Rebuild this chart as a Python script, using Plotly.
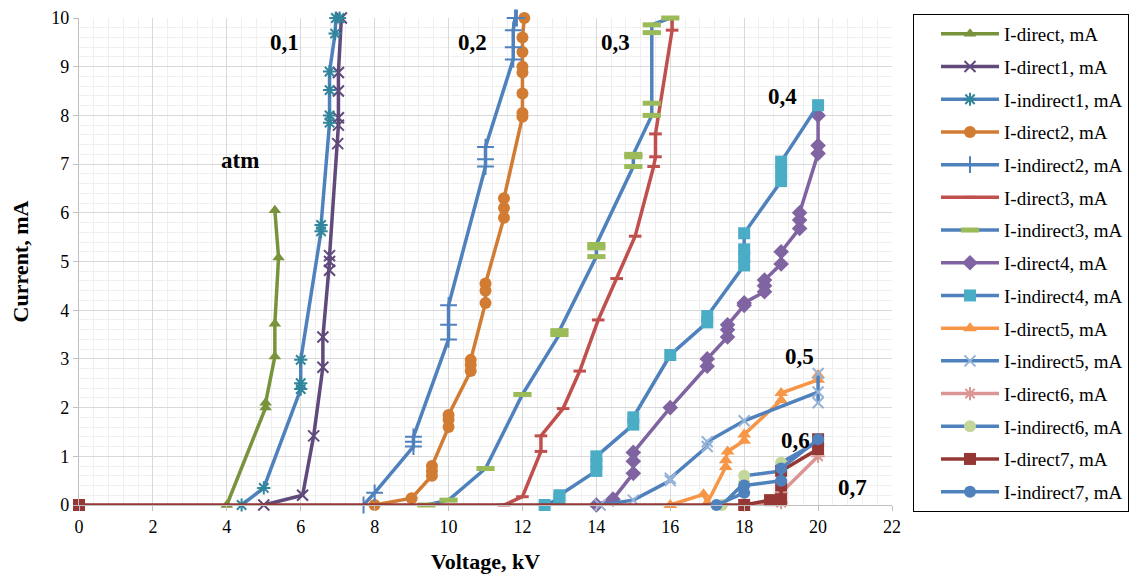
import plotly.graph_objects as go

# ---------------- data ----------------
names = ["I-direct, mA", "I-direct1, mA", "I-indirect1, mA", "I-direct2, mA", "I-indirect2, mA",
         "I-direct3, mA", "I-indirect3, mA", "I-direct4, mA", "I-indirect4, mA", "I-direct5, mA",
         "I-indirect5, mA", "I-direct6, mA", "I-indirect6, mA", "I-direct7, mA", "I-indirect7, mA"]

direct_x = [4.0, 5.05, 5.05, 5.3, 5.3, 5.4, 5.3]
direct_y = [0, 2.0, 2.1, 3.05, 3.72, 5.08, 6.05]

direct1_x = [5.0, 6.05, 6.35, 6.6, 6.6, 6.78, 6.78, 6.78, 7.0, 7.02, 7.02, 7.02, 7.02, 7.1]
direct1_y = [0, 0.2, 1.42, 2.83, 3.45, 4.82, 5.0, 5.12, 7.42, 7.8, 7.95, 8.5, 8.88, 10.0]

indirect1_x = [4.4, 5.0, 6.0, 6.0, 6.0, 6.55, 6.55, 6.78, 6.78, 6.78, 6.78, 6.93, 6.95, 7.05]
indirect1_y = [0, 0.35, 2.38, 2.5, 2.98, 5.62, 5.75, 7.85, 8.0, 8.52, 8.9, 9.68, 10.0, 10.0]

direct2_x = [8.0, 9.0, 9.55, 9.55, 9.55, 10.0, 10.0, 10.0, 10.6, 10.6, 10.6, 11.0, 11.0, 11.0,
             11.5, 11.5, 11.5, 12.0, 12.0, 12.0, 12.0, 12.0, 12.0, 12.0, 12.05]
direct2_y = [0, 0.14, 0.6, 0.7, 0.8, 1.6, 1.75, 1.85, 2.75, 2.88, 2.98, 4.15, 4.4, 4.55,
             5.9, 6.1, 6.3, 7.97, 8.05, 8.45, 8.88, 9.0, 9.3, 9.6, 10.0]

indirect2_x = [7.7, 8.0, 9.05, 9.05, 9.05, 10.0, 10.0, 10.0, 11.0, 11.0, 11.0, 11.75, 11.75, 11.75, 11.8, 11.85]
indirect2_y = [0, 0.25, 1.2, 1.3, 1.4, 3.4, 3.7, 4.1, 6.95, 7.1, 7.35, 9.15, 9.4, 9.75, 10.0, 10.0]

direct3_x = [11.5, 12.0, 12.5, 12.5, 13.1, 13.55, 14.05, 14.55, 15.05, 15.55, 15.6, 15.6, 16.05, 16.05]
direct3_y = [0, 0.17, 1.1, 1.42, 1.98, 2.75, 3.8, 4.65, 5.52, 6.95, 7.15, 7.62, 9.75, 10.0]

indirect3_x = [9.4, 10.0, 11.0, 12.0, 13.0, 13.0, 14.0, 14.0, 14.0, 15.0, 15.0, 15.0, 15.5, 15.5, 15.5, 15.5, 16.0]
indirect3_y = [0, 0.1, 0.75, 2.27, 3.5, 3.58, 5.1, 5.28, 5.35, 6.95, 7.15, 7.2, 8.0, 8.25, 9.7, 9.86, 10.0]

direct4_x = [14.0, 14.45, 15.0, 15.0, 15.0, 16.0, 17.0, 17.0, 17.55, 17.55, 17.55, 18.0, 18.0,
             18.55, 18.55, 18.55, 19.0, 19.0, 19.5, 19.5, 19.5, 20.0, 20.0, 20.0]
direct4_y = [0, 0.12, 0.65, 0.9, 1.08, 2.0, 2.85, 3.0, 3.45, 3.6, 3.7, 4.1, 4.15,
             4.38, 4.5, 4.62, 4.95, 5.2, 5.68, 5.85, 6.0, 7.22, 7.38, 8.0]

indirect4_x = [12.6, 13.0, 13.0, 14.0, 14.0, 14.0, 15.0, 15.0, 16.0, 17.0, 17.0, 18.0, 18.0, 18.0, 18.0,
               19.0, 19.0, 19.0, 20.0]
indirect4_y = [0, 0.12, 0.2, 0.7, 0.85, 1.0, 1.65, 1.8, 3.08, 3.75, 3.88, 4.92, 5.1, 5.25, 5.58,
               6.65, 6.85, 7.05, 8.21]

direct5_x = [16.0, 16.9, 17.0, 17.5, 17.5, 17.55, 18.0, 18.0, 19.0, 19.0, 20.0, 20.0]
direct5_y = [0, 0.22, 0.04, 0.78, 0.92, 1.1, 1.32, 1.45, 2.15, 2.3, 2.57, 2.67]

indirect5_x = [14.1, 15.0, 16.0, 16.0, 17.0, 17.0, 18.0, 20.0, 20.0, 20.0]
indirect5_y = [0, 0.1, 0.5, 0.55, 1.2, 1.3, 1.73, 2.32, 2.1, 2.7]

direct6_x = [18.0, 19.0, 19.0, 20.0]
direct6_y = [0, 0.05, 0.25, 1.0]

indirect6_x = [17.4, 18.0, 18.0, 19.0, 19.0, 20.0]
indirect6_y = [0, 0.45, 0.6, 0.7, 0.87, 1.3]

direct7_x = [0, 18.0, 18.7, 19.0, 19.0, 19.0, 20.0, 20.0]
direct7_y = [0, 0, 0.1, 0.12, 0.4, 0.7, 1.15, 1.35]

indirect7_x = [17.25, 18.0, 18.0, 19.0, 19.0, 20.0]
indirect7_y = [0, 0.25, 0.4, 0.5, 0.75, 1.35]

label_text = ["atm", "0,1", "0,2", "0,3", "0,4", "0,5", "0,6", "0,7"]
label_x = [4.36, 5.57, 10.66, 14.53, 19.03, 19.51, 19.4, 20.92]
label_y = [7.08, 9.49, 9.49, 9.49, 8.38, 3.04, 1.33, 0.35]

x_ticks = list(range(0, 23, 2))
y_ticks = list(range(0, 11))

# ---------------- styles ----------------
BLUE = "#4F81BD"
series = [
    (direct_x, direct_y, "#77933C", dict(symbol="triangle-up", color="#77933C", size=11)),
    (direct1_x, direct1_y, "#604A7B", dict(symbol="x-thin-open", color="#604A7B", size=11, line=dict(color="#604A7B", width=2))),
    (indirect1_x, indirect1_y, BLUE, dict(symbol="asterisk-open", color="#31859C", size=11, line=dict(color="#31859C", width=2))),
    (direct2_x, direct2_y, "#D27C33", dict(symbol="circle", color="#D27C33", size=12)),
    (indirect2_x, indirect2_y, BLUE, dict(symbol="cross-thin-open", color=BLUE, size=12, line=dict(color=BLUE, width=2))),
    (direct3_x, direct3_y, "#C0504D", dict(symbol="line-ew-open", color="#C0504D", size=9, line=dict(color="#C0504D", width=3))),
    (indirect3_x, indirect3_y, BLUE, dict(symbol="line-ew-open", color="#9BBB59", size=13, line=dict(color="#9BBB59", width=5))),
    (direct4_x, direct4_y, "#8064A2", dict(symbol="diamond", color="#8064A2", size=12)),
    (indirect4_x, indirect4_y, BLUE, dict(symbol="square", color="#4BACC6", size=12)),
    (direct5_x, direct5_y, "#F79646", dict(symbol="triangle-up", color="#F79646", size=12)),
    (indirect5_x, indirect5_y, BLUE, dict(symbol="x-thin-open", color="#95B3D7", size=11, line=dict(color="#95B3D7", width=2))),
    (direct6_x, direct6_y, "#D99694", dict(symbol="asterisk-open", color="#D99694", size=11, line=dict(color="#D99694", width=2))),
    (indirect6_x, indirect6_y, BLUE, dict(symbol="circle", color="#C3D69B", size=12)),
    (direct7_x, direct7_y, "#953735", dict(symbol="square", color="#953735", size=12)),
    (indirect7_x, indirect7_y, BLUE, dict(symbol="circle", color=BLUE, size=12)),
]

FONT = "Liberation Serif, Times New Roman, serif"
W, H = 1129, 566   # page body has an 8px offset
fig = go.Figure()
for i, (xs, ys, lc, mk) in enumerate(series):
    fig.add_trace(go.Scatter(x=xs, y=ys, mode="lines+markers", name=names[i],
                             legendgroup=f"g{i}", cliponaxis=False,
                             line=dict(color=lc, width=3.5), marker=mk))

for t, xx, yy in zip(label_text, label_x, label_y):
    fig.add_annotation(x=xx, y=yy, text=f"<b>{t}</b>", showarrow=False,
                       font=dict(family=FONT, size=23, color="black"))

fig.update_layout(
    width=W, height=H,
    margin=dict(l=71, r=245, t=10, b=69),
    paper_bgcolor="white", plot_bgcolor="white",
    font=dict(family=FONT, size=18, color="black"),
    showlegend=True,
    legend=dict(xref="container", yref="container", x=905 / W, y=1 - 6 / H,
                xanchor="left", yanchor="top", maxheight=560,
                bordercolor="black", borderwidth=1, bgcolor="white",
                font=dict(family=FONT, size=19, color="black"),
                tracegroupgap=5.0, itemwidth=58, indentation=22),
    xaxis=dict(range=[0, 22], tickvals=x_ticks, ticks="outside", ticklen=5, tickcolor="#BFBFBF",
               showgrid=True, gridcolor="#D9D9D9", gridwidth=1.3, automargin=False,
               minor=dict(dtick=0.4, showgrid=True, gridcolor="#EFEFEF", gridwidth=1),
               showline=True, linecolor="#BFBFBF", linewidth=1.3, zeroline=False,
               title=dict(text="<b>Voltage, kV</b>", font=dict(family=FONT, size=22), standoff=17)),
    yaxis=dict(range=[0, 10], tickvals=y_ticks, ticks="outside", ticklen=5, tickcolor="#BFBFBF",
               showgrid=True, gridcolor="#D9D9D9", gridwidth=1.3, automargin=False,
               minor=dict(dtick=0.2, showgrid=True, gridcolor="#EFEFEF", gridwidth=1),
               showline=True, linecolor="#BFBFBF", linewidth=1.3, zeroline=False,
               title=dict(text="<b>Current, mA</b>", font=dict(family=FONT, size=22), standoff=17)),
)

fig.write_html("out.html")
